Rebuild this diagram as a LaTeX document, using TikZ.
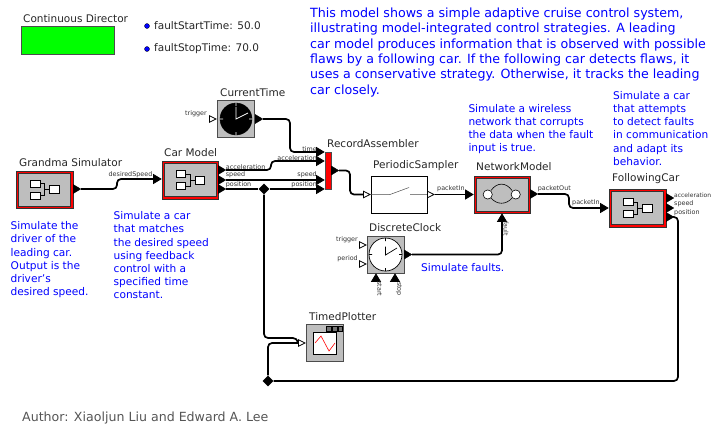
\documentclass[tikz,border=0pt]{standalone}
\usepackage{fontspec}
\setmainfont{DejaVu Sans}
\usetikzlibrary{arrows,shapes.geometric}
\definecolor{blockgray}{HTML}{BEBEBE}
\definecolor{notegray}{HTML}{555555}

\begin{document}
\begin{tikzpicture}[x=1pt,y=-1pt,wire/.style={line width=1.7pt,rounded corners=4pt},
  composite/.style={rectangle,draw=black!80,line width=.5pt,fill=red,minimum width=56.5pt,minimum height=37.5pt,inner sep=0pt},
  composite body/.style={rectangle,draw=black!80,line width=.5pt,fill=blockgray,minimum width=52pt,minimum height=33pt,inner sep=0pt},
  actor/.style={rectangle,draw=black!70,line width=.7pt,fill=blockgray,minimum width=37pt,minimum height=37pt,inner sep=0pt},
  inport/.style={isosceles triangle,isosceles triangle stretches,draw=black,line width=.8pt,fill=white,minimum width=6.5pt,minimum height=6.5pt,inner sep=0pt,anchor=apex},
  black inport/.style={inport,fill=black,minimum width=9pt,minimum height=7.5pt},
  up inport/.style={black inport,shape border rotate=90,anchor=apex},
  outport/.style={isosceles triangle,isosceles triangle stretches,draw=black,fill=black,minimum width=9pt,minimum height=7.5pt,inner sep=0pt,anchor=lower side},
  title/.style={font=\fontsize{10.5}{12}\selectfont,inner sep=0pt,anchor=west,text=black!85},
  port label/.style={font=\fontsize{6.4}{8}\selectfont,inner sep=0pt,text=black!80},
  note/.style={font=\fontsize{10.6}{13.2}\selectfont,text=blue,align=left,inner sep=0pt,anchor=north west},
  param/.style={circle,draw=black,line width=.3pt,fill=blue,inner sep=0pt,minimum size=5pt},
  relation/.style={diamond,fill=black,inner sep=0pt,minimum size=11pt}]

  \useasboundingbox (0,0) rectangle (712,426);

  \node[rectangle,draw=black!70,fill=green,minimum width=93pt,minimum height=28pt,inner sep=0pt] (director) at (68,40) {};
  \node[title] (director title) at (23,18.5) {Continuous Director};
  \node[param] (start dot) at (147,26) {};
  \node[param] (stop dot) at (147,49) {};
  \node[title] (start param) at (154,26) {faultStartTime: 50.0};
  \node[title] (stop param) at (154,49) {faultStopTime: 70.0};

  \node[note,font=\fontsize{12.65}{15.4}\selectfont] (model note) at (310,7.5) {This model shows a simple adaptive cruise control system, \\ illustrating model-integrated control strategies. A leading \\ car model produces information that is observed with possible \\ flaws by a following car. If the following car detects flaws, it \\ uses a conservative strategy. Otherwise, it tracks the leading \\ car closely.};
  \node[note] (gs note) at (10.5,221.5) {Simulate the \\ driver of the \\ leading car. \\ Output is the \\ driver's \\ desired speed.};
  \node[note] (cm note) at (113.5,211.5) {Simulate a car \\ that matches \\ the desired speed \\ using feedback \\ control with a \\ specified time \\ constant.};
  \node[note] (nm note) at (468.3,104) {Simulate a wireless \\ network that corrupts \\ the data when the fault \\ input is true.};
  \node[note] (fc note) at (613,91) {Simulate a car \\ that attempts \\ to detect faults \\ in communication \\ and adapt its \\ behavior.};
  \node[note] (fault note) at (421,263) {Simulate faults.};
  \node[title,font=\fontsize{12.6}{14}\selectfont,text=notegray] (author) at (22,418) {Author: Xiaoljun Liu and Edward A. Lee};

  \node[composite] (gs) at (44.5,189.5) {};
  \node[composite] (cm) [right of=gs,node distance=145.5pt,yshift=9.5pt] {};
  \node[actor] (ct) [above of=cm,node distance=61pt,xshift=46pt] {};
  \node[rectangle,draw=black!70,fill=red,minimum width=6pt,minimum height=37pt,inner sep=0pt] (ra) [right of=cm,node distance=138pt,yshift=9.5pt] {};
  \node[rectangle,draw=black,fill=white,minimum width=56pt,minimum height=37pt,inner sep=0pt] (ps) [right of=ra,node distance=71pt,yshift=-24pt] {};
  \node[composite] (nm) [right of=ps,node distance=103pt] {};
  \node[composite] (fc) [right of=nm,node distance=135.5pt,yshift=-13.5pt] {};
  \node[actor] (dc) [below of=ps,node distance=60pt,xshift=-13.5pt] {};
  \node[actor] (tp) [below of=dc,node distance=88.5pt,xshift=-61pt] {};

  \node[composite body] (gs body) at (gs) {};
  \node[composite body] (cm body) at (cm) {};
  \node[composite body] (nm body) at (nm) {};
  \node[composite body] (fc body) at (fc) {};

  \node[title] (gs title) at (19,163) {Grandma Simulator};
  \node[title] (cm title) at (164,153) {Car Model};
  \node[title] (ct title) at (220,93) {CurrentTime};
  \node[title] (ra title) at (327,144) {RecordAssembler};
  \node[title] (ps title) at (373,166) {PeriodicSampler};
  \node[title] (nm title) at (476,167) {NetworkModel};
  \node[title] (fc title) at (612,179) {FollowingCar};
  \node[title] (dc title) at (369,228) {DiscreteClock};
  \node[title] (tp title) at (309,317) {TimedPlotter};

  % composite icons
  \foreach \block in {gs,cm,fc} {
    \begin{scope}[shift={(\block.center)}]
      \draw[line width=.6pt] (-4.5,-6) -- (0,-6) -- (0,6) -- (-4.5,6) (0,0) -- (5,0);
      \draw[line width=.6pt,fill=white] (-14,-9.5) rectangle (-4.5,-2.5) (-14,2.5) rectangle (-4.5,9.5) (5,-4) rectangle (14.5,4);
    \end{scope}
  }

  % clock faces
  \draw[fill=black] (ct.center) circle (16);
  \draw[white,line width=.8pt] (236,107) -- (236,119) -- (248,113) (236,103) -- (236,106) (236,132) -- (236,135) (220,119) -- (223,119) (249,119) -- (252,119);
  \draw[fill=white,line width=.7pt] (dc.center) circle (16.5);
  \draw[line width=.7pt] (385.5,246.5) -- (385.5,255) -- (397,248) (385.5,238) -- (385.5,241) (385.5,268) -- (385.5,271) (369,254.5) -- (372,254.5) (399,254.5) -- (402,254.5);

  % sampler switch
  \draw[line width=.5pt,black!70] (ps.west) -- (390,194.5) -- (409,187.5) (410,194.5) -- (ps.east);

  % network icon
  \draw[line width=.6pt] (491,190.5) .. controls (497,182) and (506,182) .. (512,190.5) (491,198) .. controls (497,205) and (506,205) .. (512,198);
  \draw[line width=.6pt,fill=white] (487.7,194.5) circle (4.6) (515.7,194.5) circle (4.6);

  % plotter icon
  \draw[line width=.7pt,fill=white] (313,332) rectangle (336,354);
  \draw[line width=.5pt,fill=black!55] (326,326) rectangle (331,331) (332,326) rectangle (337,331) (338,326) rectangle (342.5,331);
  \draw[red,line width=.6pt] (315,343) -- (321,336) -- (329,351) -- (335,343);

  \node[outport] (gs out) at (73,189) {};
  \node[black inport] (cm in) at (162,179) {};
  \node[outport] (cm acc) at (218,170) {};
  \node[outport] (cm speed) at (218,180) {};
  \node[outport] (cm pos) at (218,189) {};
  \node[inport] (ct trig) at (217,119) {};
  \node[outport] (ct out) at (255,119) {};
  \node[black inport] (ra time) at (325,152) {};
  \node[black inport] (ra acc) at (325,161) {};
  \node[black inport] (ra speed) at (325,180) {};
  \node[black inport] (ra pos) at (325,189) {};
  \node[outport] (ra out) at (331,170.5) {};
  \node[inport] (ps in) at (371,194.5) {};
  \node[inport,anchor=lower side] (ps out) at (427,194.5) {};
  \node[black inport] (nm in) at (474,194.5) {};
  \node[outport] (nm out) at (530,194) {};
  \node[up inport] (nm fault) at (502,213) {};
  \node[black inport] (fc in) at (609,208) {};
  \node[outport] (fc acc) at (666,198) {};
  \node[outport] (fc speed) at (666,208) {};
  \node[outport] (fc pos) at (666,217) {};
  \node[inport] (dc trig) at (367,245) {};
  \node[inport] (dc period) at (367,264) {};
  \node[up inport] (dc start) at (376,273) {};
  \node[up inport] (dc stop) at (395,273) {};
  \node[outport] (dc out) at (404,254.5) {};
  \node[inport] (tp in) at (306,343) {};

  \node[relation] (pos rel) at (264,189) {};
  \node[relation] (follow rel) at (268,381) {};

  \node[port label] (ct trig label) at (196,114) {trigger};
  \node[port label] (ds label) at (130.5,175) {desiredSpeed};
  \node[port label,anchor=west] (cm acc label) at (225.7,167) {acceleration};
  \node[port label,anchor=west] (cm speed label) at (225.7,175) {speed};
  \node[port label,anchor=west] (cm pos label) at (225.7,185) {position};
  \node[port label,anchor=east] (ra time label) at (317,148.7) {time};
  \node[port label,anchor=east] (ra acc label) at (317,158) {acceleration};
  \node[port label,anchor=east] (ra speed label) at (317,175) {speed};
  \node[port label,anchor=east] (ra pos label) at (317,185) {position};
  \node[port label,anchor=west] (ps out label) at (437,189) {packetIn};
  \node[port label,anchor=west] (nm out label) at (537.6,189) {packetOut};
  \node[port label,anchor=west] (fc in label) at (572,203) {packetIn};
  \node[port label,rotate=-90] (nm fault label) at (506,229) {fault};
  \node[port label,anchor=west,font=\fontsize{6}{8}\selectfont] (fc acc label) at (674,195) {acceleration};
  \node[port label,anchor=west] (fc speed label) at (674,203.5) {speed};
  \node[port label,anchor=west] (fc pos label) at (674,213) {position};
  \node[port label,anchor=east] (dc trig label) at (358,240) {trigger};
  \node[port label,anchor=east] (dc period label) at (358,259) {period};
  \node[port label,rotate=-90] (dc start label) at (379.5,289) {start};
  \node[port label,rotate=-90] (dc stop label) at (399,289) {stop};

  \draw[wire] (gs out.apex) -- (117,189) -- (117,179) -- (cm in.lower side);
  \draw[wire] (cm acc.apex) -- (271,170) -- (271,161) -- (ra acc.lower side);
  \draw[wire] (cm speed.apex) -- (ra speed.lower side);
  \draw[wire] (cm pos.apex) -- (pos rel) -- (ra pos.lower side);
  \draw[wire] (ct out.apex) -- (290,119) -- (290,152) -- (ra time.lower side);
  \draw[wire] (ra out.apex) -- (350,170.5) -- (350,194.5) -- (ps in.lower side);
  \draw[wire] (ps out.apex) -- (nm in.lower side);
  \draw[wire] (nm out.apex) -- (569,194) -- (569,208) -- (fc in.lower side);
  \draw[wire] (dc out.apex) -- (502,254.5) -- (nm fault.lower side);
  \draw[wire] (pos rel) -- (264,338) -- (297,338) -- (tp in.lower side);
  \draw[wire] (follow rel) -- (268,343) -- (tp in.lower side);
  \draw[wire] (fc pos.apex) -- (678,217) -- (678,381) -- (follow rel);
\end{tikzpicture}
\end{document}
